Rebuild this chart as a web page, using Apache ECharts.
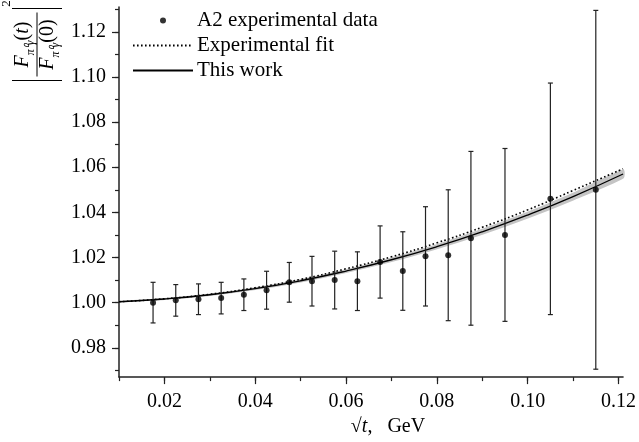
<!DOCTYPE html>
<html><head><meta charset="utf-8">
<script src="https://cdn.jsdelivr.net/npm/echarts@6/dist/echarts.min.js"></script>
<style>html,body{margin:0;padding:0;background:#fff}#c{width:639px;height:442px}</style>
</head><body><div id="c"></div>
<script>
const FONT = "'Liberation Serif','Times New Roman',serif";

// A2 experimental data
const expX   = [0.0175, 0.0225, 0.0275, 0.0325, 0.0375, 0.0425, 0.0475, 0.0525, 0.0575, 0.0625, 0.0675, 0.0725, 0.0775, 0.0825, 0.0875, 0.095, 0.105, 0.115];
const expY   = [1.000, 1.001, 1.0015, 1.002, 1.0035, 1.0055, 1.009, 1.0095, 1.010, 1.0095, 1.018, 1.014, 1.0205, 1.021, 1.0285, 1.030, 1.046, 1.050];
const expErr = [0.009, 0.007, 0.0068, 0.007, 0.007, 0.0084, 0.0088, 0.011, 0.0128, 0.013, 0.016, 0.0174, 0.022, 0.029, 0.0385, 0.0383, 0.0513, 0.0795];

// curves
const curveX   = [0.010, 0.020, 0.030, 0.040, 0.050, 0.060, 0.070, 0.080, 0.090, 0.100, 0.110, 0.121];
const thisWork = [1.0004, 1.0016, 1.0035, 1.0062, 1.0097, 1.0140, 1.0190, 1.0248, 1.0314, 1.0388, 1.0470, 1.0570];
const bandLow  = [1.0004, 1.0015, 1.0033, 1.0059, 1.0093, 1.0135, 1.0183, 1.0240, 1.0304, 1.0376, 1.0456, 1.0553];
const bandHigh = [1.0004, 1.0017, 1.0037, 1.0065, 1.0101, 1.0145, 1.0197, 1.0256, 1.0324, 1.0400, 1.0484, 1.0587];
const expFit   = [1.0004, 1.0017, 1.0037, 1.0066, 1.0103, 1.0150, 1.0203, 1.0265, 1.0334, 1.0411, 1.0497, 1.0593];

// ticks
const xMajorTicks = [0.02, 0.04, 0.06, 0.08, 0.10, 0.12];
const xMinorTicks = [0.01, 0.02, 0.03, 0.04, 0.05, 0.06, 0.07, 0.08, 0.09, 0.10, 0.11, 0.12];
const yMajorTicks = [0.98, 1.00, 1.02, 1.04, 1.06, 1.08, 1.10, 1.12];
const yMinorTicks = [0.97, 0.98, 0.99, 1.00, 1.01, 1.02, 1.03, 1.04, 1.05, 1.06, 1.07, 1.08, 1.09, 1.10, 1.11, 1.12, 1.13];

const X_MIN = 0.01, X_MAX = 0.121, Y_MIN = 0.967, Y_MAX = 1.131;
const AX = '#222';

const chart = echarts.init(document.getElementById('c'), null, {renderer: 'canvas'});
const pairs = (xs, ys) => xs.map((x, i) => [x, ys[i]]);

const fracRich = {
  F: {fontFamily: FONT, fontStyle: 'italic', fontSize: 20, lineHeight: 24, verticalAlign: 'top', fill: '#000'},
  s: {fontFamily: FONT, fontStyle: 'italic', fontSize: 12, lineHeight: 12, verticalAlign: 'bottom', fill: '#000'},
  p: {fontFamily: FONT, fontSize: 20, lineHeight: 24, verticalAlign: 'top', fill: '#000'}
};

const option = {
  animation: false,
  backgroundColor: '#fff',
  grid: {left: 119, right: 11, top: 7, bottom: 60, containLabel: false},
  xAxis: [
    {type: 'value', min: X_MIN, max: X_MAX, position: 'bottom',
     axisLine: {show: true, onZero: false, lineStyle: {color: AX, width: 1.5}},
     axisTick: {show: true, customValues: xMinorTicks, length: 4, lineStyle: {color: AX, width: 1.2}},
     axisLabel: {show: false}, splitLine: {show: false}},
    {type: 'value', min: X_MIN, max: X_MAX, position: 'bottom',
     axisLine: {show: false, onZero: false},
     axisTick: {show: true, customValues: xMajorTicks, length: 7, lineStyle: {color: AX, width: 1.2}},
     axisLabel: {show: true, customValues: xMajorTicks, formatter: v => v.toFixed(2), fontFamily: FONT, fontSize: 20, color: '#000', margin: 15},
     splitLine: {show: false},
     name: '{r|√}{i|t}{r|,}{g|GeV}', nameLocation: 'middle', nameGap: 24,
     nameTextStyle: {fontFamily: FONT, fontSize: 20, color: '#000', padding: [0, 0, 0, 34],
       rich: {r: {fontFamily: FONT, fontSize: 20, color: '#000'},
              i: {fontFamily: FONT, fontSize: 20, fontStyle: 'italic', color: '#000'},
              g: {fontFamily: FONT, fontSize: 20, color: '#000', padding: [0, 0, 0, 15]}}}}
  ],
  yAxis: [
    {type: 'value', min: Y_MIN, max: Y_MAX, position: 'left',
     axisLine: {show: true, onZero: false, lineStyle: {color: AX, width: 1.5}},
     axisTick: {show: true, customValues: yMinorTicks, length: 4, lineStyle: {color: AX, width: 1.2}},
     axisLabel: {show: false}, splitLine: {show: false}},
    {type: 'value', min: Y_MIN, max: Y_MAX, position: 'left',
     axisLine: {show: false, onZero: false},
     axisTick: {show: true, customValues: yMajorTicks, length: 7, lineStyle: {color: AX, width: 1.2}},
     axisLabel: {show: true, customValues: yMajorTicks, formatter: v => v.toFixed(2), fontFamily: FONT, fontSize: 20, color: '#000', margin: 13},
     splitLine: {show: false}}
  ],
  legend: {
    orient: 'vertical', left: 132, top: 10, itemWidth: 60, itemHeight: 6, itemGap: 4, padding: 0,
    selectedMode: false,
    data: [
      {name: 'A2 experimental data'},
      {name: 'Experimental fit', itemStyle: {opacity: 0}},
      {name: 'This work', itemStyle: {opacity: 0}}
    ],
    textStyle: {fontFamily: FONT, fontSize: 21, color: '#000', padding: [0, 0, 0, -1]}
  },
  graphic: [{
    type: 'group', x: 37, y: 44.5, rotation: Math.PI / 2,
    children: [
      {type: 'text', x: 0, y: -12, style: {
        text: '{F|F}{s|π⁰γ}{p|(}{F|t}{p|)}', align: 'center', verticalAlign: 'middle', rich: fracRich}},
      {type: 'line', shape: {x1: -32, y1: 0, x2: 32, y2: 0}, style: {stroke: '#000', lineWidth: 1}},
      {type: 'text', x: 0, y: 13, style: {
        text: '{F|F}{s|π⁰γ}{p|(0)}', align: 'center', verticalAlign: 'middle', rich: fracRich}},
      {type: 'line', shape: {x1: -36, y1: -25, x2: -36, y2: 25}, style: {stroke: '#000', lineWidth: 1}},
      {type: 'line', shape: {x1: 36, y1: -25, x2: 36, y2: 25}, style: {stroke: '#000', lineWidth: 1}},
      {type: 'text', x: 41, y: -30, style: {text: '2', fontFamily: FONT, fontSize: 13, fill: '#000', align: 'center', verticalAlign: 'middle'}}
    ]
  }],
  series: [
    {name: 'band', type: 'custom', xAxisIndex: 0, yAxisIndex: 0, silent: true, z: 1,
     data: [[curveX[0], bandLow[0]]],
     renderItem: (params, api) => {
       const pts = [];
       for (let i = 0; i < curveX.length; i++) pts.push(api.coord([curveX[i], bandHigh[i]]));
       for (let i = curveX.length - 1; i >= 0; i--) pts.push(api.coord([curveX[i], bandLow[i]]));
       return {type: 'polygon', shape: {points: pts, smooth: 0.2}, style: {fill: '#c4c4c4', stroke: '#c4c4c4', lineWidth: 1.5}};
     }},
    {name: 'This work', type: 'line', xAxisIndex: 0, yAxisIndex: 0, data: pairs(curveX, thisWork),
     symbol: 'none', smooth: true, z: 2, lineStyle: {color: '#000', width: 1.3}, itemStyle: {color: '#000'}},
    {name: 'Experimental fit', type: 'line', xAxisIndex: 0, yAxisIndex: 0, data: pairs(curveX, expFit),
     symbol: 'none', smooth: true, z: 3, lineStyle: {color: '#000', width: 1.6, type: [1.6, 2.4]}, itemStyle: {color: '#000'}},
    {name: 'errors', type: 'custom', xAxisIndex: 0, yAxisIndex: 0, silent: true, z: 4,
     data: expX.map((x, i) => [x, expY[i], expErr[i]]),
     encode: {x: 0, y: 1},
     renderItem: (params, api) => {
       const x = api.value(0), y = api.value(1), e = api.value(2);
       const t = api.coord([x, y + e]), b = api.coord([x, y - e]);
       const c = 2.5, st = {stroke: '#222', lineWidth: 1.2};
       return {type: 'group', children: [
         {type: 'line', shape: {x1: t[0], y1: t[1], x2: b[0], y2: b[1]}, style: st},
         {type: 'line', shape: {x1: t[0] - c, y1: t[1], x2: t[0] + c, y2: t[1]}, style: st},
         {type: 'line', shape: {x1: b[0] - c, y1: b[1], x2: b[0] + c, y2: b[1]}, style: st}
       ]};
     }},
    {name: 'A2 experimental data', type: 'scatter', xAxisIndex: 0, yAxisIndex: 0, data: pairs(expX, expY),
     symbol: 'circle', symbolSize: 6, z: 5, itemStyle: {color: '#000'}}
  ]
};
chart.setOption(option);
</script></body></html>
